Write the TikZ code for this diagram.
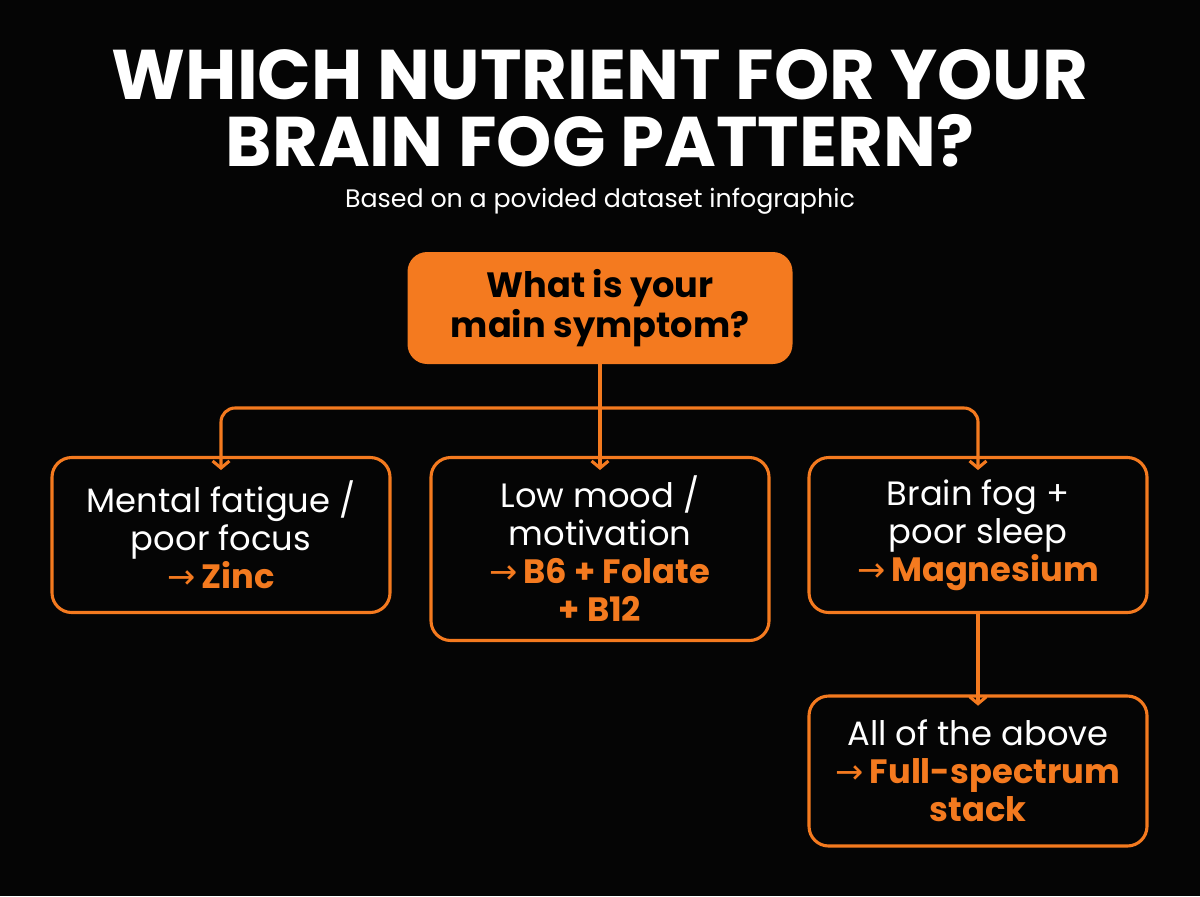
\documentclass[tikz,border=0pt]{standalone}
\usepackage{fontspec}
\setmainfont{Poppins}
\newfontfamily\arrowfont{DejaVu Sans}
\usetikzlibrary{positioning,arrows.meta}
\definecolor{fogorange}{HTML}{F47A1F}
\definecolor{fogbg}{HTML}{050505}
\tikzset{
  choice/.style={draw=fogorange, line width=2.2pt, rounded corners=14pt, text=white,
    minimum width=338*0.025cm, align=center, font=\fontsize{24}{27}\selectfont},
  question/.style={fill=fogorange, rounded corners=14pt, text=black, align=center,
    minimum width=385*0.025cm, minimum height=112*0.025cm, font=\bfseries\fontsize{25}{28}\selectfont},
  link/.style={draw=fogorange, line width=2.2pt, rounded corners=10pt, -{Straight Barb[length=5pt,width=12pt]}}
}
\newcommand{\pick}[1]{\textcolor{fogorange}{{\arrowfont→}\,\bfseries #1}}
\begin{document}
\begin{tikzpicture}[x=0.025cm, y=-0.025cm]
	\fill[fogbg] (0,0) rectangle (1200,896);
	\useasboundingbox (0,0) rectangle (1200,896);
	
	% title
	\node[text=white, align=center, inner sep=0pt, font=\bfseries\fontsize{50}{48}\selectfont] (title) at (600,108) {WHICH NUTRIENT FOR YOUR\\BRAIN FOG PATTERN?};
	\node[text=white, inner sep=0pt, font=\fontsize{18}{20}\selectfont] (sub) at (600,201) {Based on a povided dataset infographic};
	
	% boxes
	\node[question] (ask) at (600,308) {What is your\\main symptom?};
	\node[choice, minimum height=155*0.025cm] (fatigue) at (221,535) {Mental fatigue /\\poor focus\\\pick{Zinc}};
	\node[choice, minimum height=183*0.025cm] (mood) at (600,549) {Low mood /\\motivation\\\pick{B6 + Folate}\\\textcolor{fogorange}{\bfseries + B12}};
	\node[choice, minimum height=155*0.025cm] (sleep) at (978,535) {Brain fog +\\poor sleep\\\pick{Magnesium}};
	\node[choice, minimum height=150*0.025cm] (all) at (978,771) {All of the above\\\pick{Full-spectrum}\\\textcolor{fogorange}{\bfseries stack}};
	
	% connectors
	\coordinate (split) at (600,408);
	\draw[fogorange, line width=2.2pt] (ask.south) -- (split);
	\path[link] (split) -| ([yshift=-10pt]fatigue.north);
	\path[link] (split) -| ([yshift=-10pt]sleep.north);
	\path[link] (split) -- ([yshift=-10pt]mood.north);
	\path[link] (sleep.south) -- ([yshift=-8pt]all.north);
\end{tikzpicture}
\end{document}
